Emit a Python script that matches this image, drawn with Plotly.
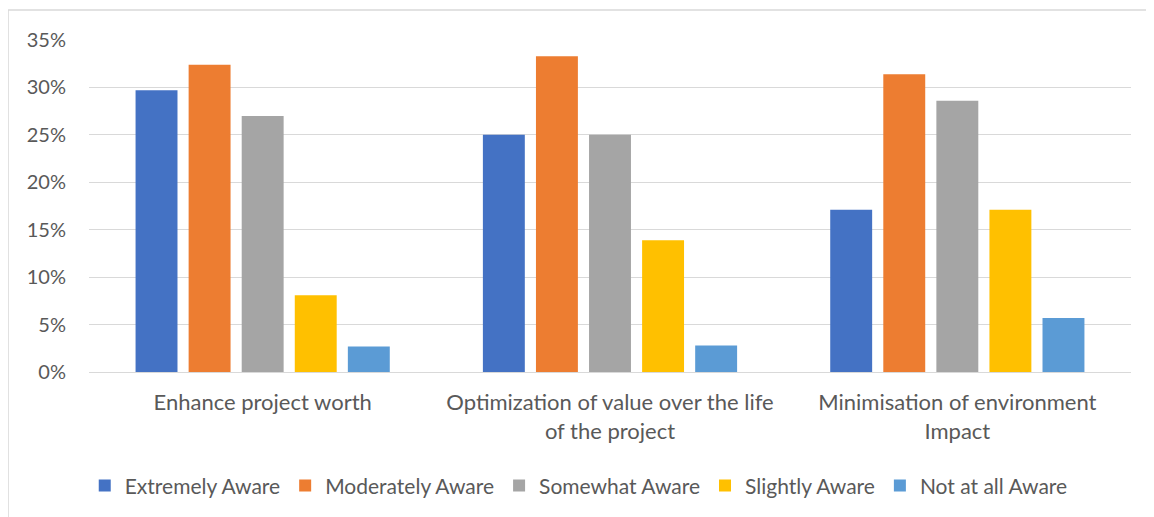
import plotly.graph_objects as go

categories = [
    "Enhance project worth",
    "Optimization of value over the life<br>of the project",
    "Minimisation of environment<br>Impact",
]
series_names = ["Extremely Aware", "Moderately Aware", "Somewhat Aware",
                "Slightly Aware", "Not at all Aware"]
extremely = [0.297, 0.250, 0.171]
moderately = [0.324, 0.333, 0.314]
somewhat = [0.270, 0.250, 0.286]
slightly = [0.081, 0.139, 0.171]
not_at_all = [0.027, 0.028, 0.057]
colors = ["#4472C4", "#ED7D31", "#A5A5A5", "#FFC000", "#5B9BD5"]

font = "Lato, 'Noto Sans', sans-serif"
text_color = "#595959"

fig = go.Figure()
for name, vals, col in zip(series_names,
                           [extremely, moderately, somewhat, slightly, not_at_all],
                           colors):
    fig.add_trace(go.Bar(x=categories, y=vals, name=name, marker_color=col,
                         marker_line_width=0))

# the page body adds an 8px offset, margins account for it
fig.update_layout(
    width=1154, height=517,
    margin=dict(l=81, r=31, t=32, b=153),
    paper_bgcolor="white", plot_bgcolor="white",
    barmode="group", bargap=0.236, bargroupgap=0.21,
    font=dict(family=font, size=21, color=text_color),
    legend=dict(orientation="h", x=0.47, xanchor="center", y=-0.343,
                yanchor="middle", font=dict(size=21), itemwidth=30,
                traceorder="normal"),
    showlegend=True,
)
fig.update_xaxes(showline=False, showgrid=False, ticks="",
                 ticklabelstandoff=15, tickfont=dict(size=22))
fig.update_yaxes(range=[0, 0.35], dtick=0.05, tickformat=".0%",
                 showgrid=True, gridcolor="#D9D9D9", gridwidth=1,
                 zeroline=True, zerolinecolor="#D9D9D9", zerolinewidth=1,
                 showline=False, ticks="", ticklabelstandoff=22,
                 tickfont=dict(size=20))

# outer chart-area border (left and top edges visible)
fig.add_shape(type="line", xref="paper", yref="paper",
              x0=-0.0777, x1=-0.0777, y0=1.0904, y1=-0.47,
              line=dict(color="#D9D9D9", width=1.5))
fig.add_shape(type="line", xref="paper", yref="paper",
              x0=-0.0777, x1=1.05, y0=1.0904, y1=1.0904,
              line=dict(color="#D9D9D9", width=1.5))

fig.write_html("out.html")
